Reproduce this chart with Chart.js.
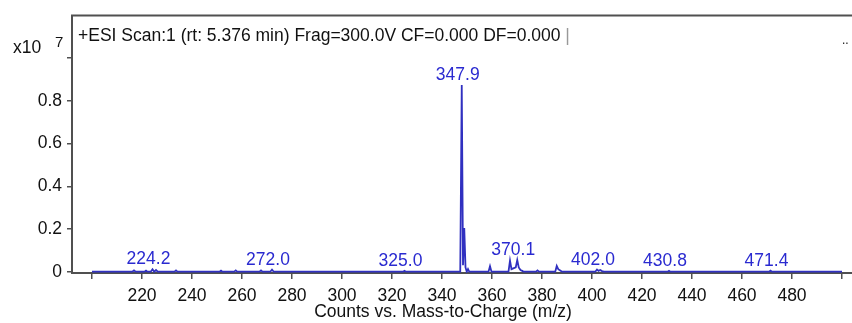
<!DOCTYPE html>
<html>
<head>
<meta charset="utf-8">
<script src="https://cdn.jsdelivr.net/npm/chart.js@4"></script>
<style>
  html, body { margin: 0; padding: 0; background: #fff; }
  #wrap { width: 852px; height: 323px; position: relative; }
</style>
</head>
<body>
<div id="wrap"><canvas id="ms"></canvas></div>
<script>
// 质谱数据 (m/z, counts x10^7)
const mzValues = [200, 216.1, 216.8, 217.5, 221.0, 221.6, 222.2, 223.5, 224.2, 224.9, 225.6, 226.3, 227.0,
  233.0, 233.6, 234.2, 251.0, 251.6, 252.2, 256.9, 257.5, 258.1, 267.0, 267.6, 268.2, 271.3, 272.0, 272.7,
  294.0, 324.4, 325.0, 325.6, 347.3, 347.9, 348.4, 348.9, 349.4, 349.9, 350.4, 350.9, 358.6, 359.2, 359.8,
  366.6, 367.2, 367.8, 369.5, 370.1, 370.7, 371.4, 372.1, 372.7, 377.6, 378.2, 378.8, 385.3, 385.9, 386.5,
  387.3, 388.0, 401.3, 402.0, 402.6, 403.3, 404.0, 404.7, 430.2, 430.8, 431.4, 470.8, 471.4, 472.0, 500];
const counts = [0, 0, 0.006, 0, 0, 0.005, 0, 0, 0.011, 0, 0.008, 0, 0,
  0, 0.006, 0, 0, 0.005, 0, 0, 0.006, 0, 0, 0.006, 0, 0, 0.01, 0,
  0, 0, 0.004, 0, 0, 0.875, 0.03, 0.205, 0.02, 0, 0.012, 0, 0, 0.026, 0,
  0, 0.052, 0.012, 0.02, 0.055, 0.02, 0.008, 0.004, 0, 0, 0.006, 0, 0, 0.027, 0.012,
  0.006, 0, 0, 0.01, 0.004, 0.008, 0.003, 0, 0, 0.004, 0, 0, 0.005, 0, 0];
const peakLabels = [224.2, 272.0, 325.0, 347.9, 370.1, 402.0, 430.8, 471.4];
const xTicks = [200, 220, 240, 260, 280, 300, 320, 340, 360, 380, 400, 420, 440, 460, 480, 500];
const yTicks = [0, 0.2, 0.4, 0.6, 0.8, 1.0];

const FONT = '"Liberation Sans", Arial, sans-serif';
const AXIS_COLOR = '#505050';
const LINE_COLOR = '#3030c0';
const LABEL_COLOR = '#2a2ad0';

const points = mzValues.map((m, i) => ({ x: m, y: counts[i] }));

// 峰标注、标题、边框
const decorations = {
  id: 'decorations',
  afterDraw(chart) {
    const ctx = chart.ctx;
    const xs = chart.scales.x, ys = chart.scales.y;
    const area = chart.chartArea;
    ctx.save();

    // 顶部边框
    ctx.strokeStyle = AXIS_COLOR;
    ctx.lineWidth = 2;
    ctx.beginPath();
    ctx.moveTo(area.left - 1, area.top);
    ctx.lineTo(chart.width, area.top);
    ctx.stroke();

    // 峰值标签
    ctx.fillStyle = LABEL_COLOR;
    ctx.font = '17.5px ' + FONT;
    ctx.textAlign = 'center';
    ctx.textBaseline = 'alphabetic';
    peakLabels.forEach(m => {
      const idx = mzValues.indexOf(m);
      const px = xs.getPixelForValue(m) - 4;
      const py = ys.getPixelForValue(counts[idx]) - 5;
      ctx.fillText(m.toFixed(1), px, py);
    });

    ctx.fillStyle = '#111';
    ctx.textAlign = 'left';
    ctx.textBaseline = 'middle';
    const head = '+ESI Scan:1 (rt: 5.376 min) Frag=300.0V CF=0.000 DF=0.000 ';
    ctx.fillText(head, area.left + 6, 36);
    ctx.fillStyle = '#999';
    ctx.fillText('|', area.left + 6 + ctx.measureText(head).width, 36);
    ctx.fillStyle = '#111';
    ctx.font = '12px ' + FONT;
    ctx.fillText('..', 842, 41);

    // 纵轴倍数
    ctx.font = '17.5px ' + FONT;
    ctx.fillText('x10', 13, 48);
    ctx.font = '15px ' + FONT;
    ctx.fillText('7', 55, 43);

    // 横轴标题
    ctx.font = '17.5px ' + FONT;
    ctx.textAlign = 'center';
    ctx.fillText('Counts vs. Mass-to-Charge (m/z)', 443, 312);
    ctx.restore();
  }
};

new Chart(document.getElementById('ms'), {
  type: 'scatter',
  data: {
    datasets: [{
      data: points,
      showLine: true,
      borderColor: LINE_COLOR,
      borderWidth: 1.8,
      pointRadius: 0,
      tension: 0,
      fill: false
    }]
  },
  options: {
    responsive: true,
    maintainAspectRatio: false,
    animation: false,
    layout: { padding: { top: 14, right: 0, left: 0, bottom: 0 } },
    plugins: { legend: { display: false }, tooltip: { enabled: false } },
    scales: {
      x: {
        type: 'linear',
        min: 192,
        max: 504,
        afterBuildTicks: s => { s.ticks = xTicks.map(v => ({ value: v })); },
        afterFit: s => { s.height = 50; },
        grid: { drawOnChartArea: false, drawTicks: true, tickLength: 6, color: AXIS_COLOR, lineWidth: 1.5 },
        border: { display: true, color: AXIS_COLOR, width: 2 },
        ticks: {
          autoSkip: false,
          maxRotation: 0,
          padding: 7,
          color: '#111',
          font: { family: FONT, size: 17.5 },
          callback: v => (v === 200 || v === 500) ? '' : v
        }
      },
      y: {
        min: -0.006,
        max: 1.2,
        afterBuildTicks: s => { s.ticks = yTicks.map(v => ({ value: v })); },
        afterFit: s => { s.width = 72; },
        grid: { drawOnChartArea: false, drawTicks: true, tickLength: 5, color: AXIS_COLOR, lineWidth: 1.5 },
        border: { display: true, color: AXIS_COLOR, width: 2 },
        ticks: {
          padding: 5,
          color: '#111',
          font: { family: FONT, size: 17.5 },
          callback: v => v === 1 ? '' : (v === 0 ? '0' : v.toFixed(1))
        }
      }
    }
  },
  plugins: [decorations]
});
</script>
</body>
</html>
